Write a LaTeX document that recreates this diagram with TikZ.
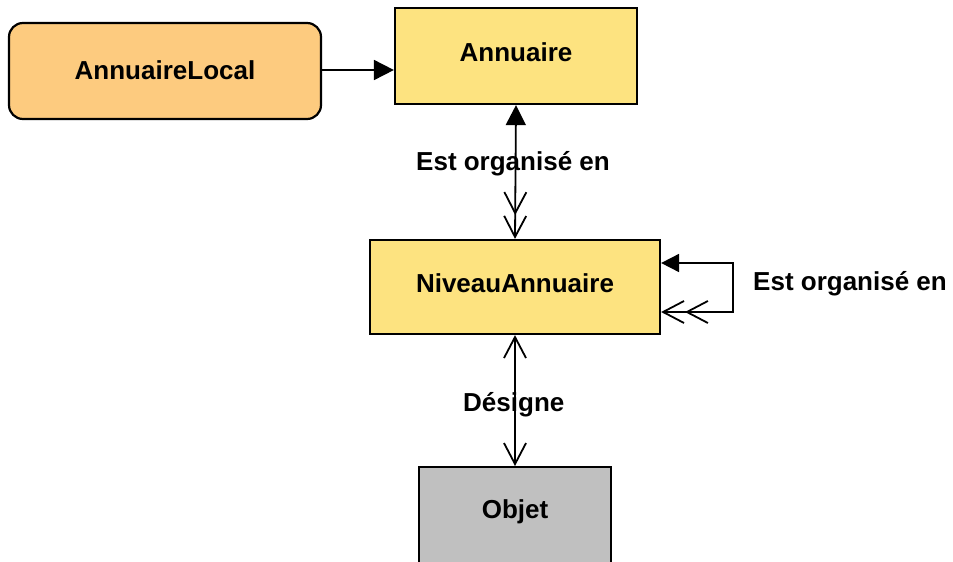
\documentclass[tikz,border=0pt]{standalone}
\usepackage{fontspec}
\setmainfont{Liberation Sans}
\usetikzlibrary{arrows.meta,positioning}
\definecolor{localfill}{RGB}{253,203,127}
\definecolor{classfill}{RGB}{253,227,128}
\definecolor{objfill}{RGB}{192,192,192}
\tikzset{
  box/.style={draw=black, line width=2.2pt, inner sep=0pt, font=\fontsize{26}{31}\selectfont\bfseries, text height=19pt},
  lbl/.style={inner sep=0pt, anchor=base west, font=\fontsize{26}{31}\selectfont\bfseries},
  conn/.style={line width=1.8pt},
  barb/.tip={Straight Barb[length=21pt,width=22pt,line width=1.8pt,sep=0pt]},
}
\begin{document}
\begin{tikzpicture}[x=1pt,y=-1pt]
\useasboundingbox (0,0) rectangle (953,562);
\node[box, rounded corners=14pt, fill=localfill, minimum width=312pt, minimum height=96pt, text depth=2pt] (local) at (165,71) {AnnuaireLocal};
\node[box, fill=classfill, minimum width=242pt, minimum height=96pt, text depth=8pt] (ann) at (516,56) {Annuaire};
\node[box, fill=classfill, minimum width=290pt, minimum height=94pt, text depth=8pt] (niv) at (515,287) {NiveauAnnuaire};
\node[box, fill=objfill, minimum width=192pt, minimum height=120pt, anchor=north, text depth=2pt] (obj) at (515,466) {};
\node[inner sep=0pt, font=\fontsize{26}{31}\selectfont\bfseries] (objtxt) at (515,512) {Objet};
% connectors
\draw[conn, -{Triangle[length=20pt,width=20pt]}] (local.east |- 0,70) -- (ann.west |- 0,70);
\draw[conn, {Triangle[length=20pt,width=20pt]}-{barb[]barb[]}] (ann.south) -- (niv.north);
\coordinate (lt) at (733,263);
\coordinate (lb) at (733,312);
\draw[conn, {barb[]barb[]}-{Triangle[length=18pt,width=18pt]}] (niv.east |- lb) -- (lb) -- (lt) -- (niv.east |- lt);
\draw[conn, {barb[]}-{barb[]}] (niv.south) -- (obj.north);
% labels
\node[lbl] (l1) at (416,170) {Est organisé en};
\node[lbl] (l2) at (753,290) {Est organisé en};
\node[lbl] (l3) at (463,411) {Désigne};
\end{tikzpicture}
\end{document}
